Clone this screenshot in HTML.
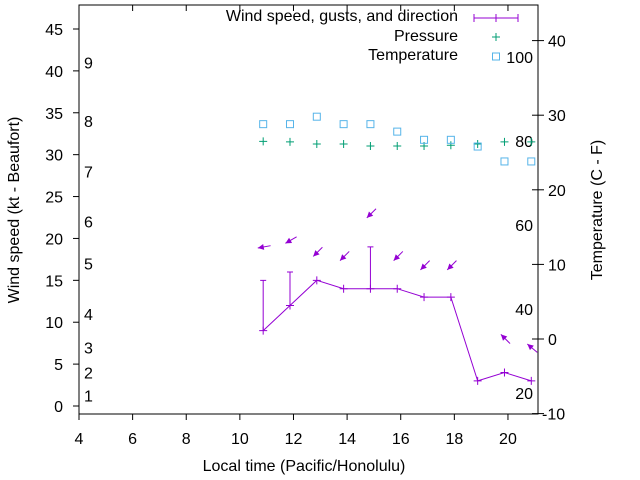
<!DOCTYPE html>
<html><head><meta charset="utf-8"><style>
body{margin:0;background:#fff}
svg{display:block;font-family:"Liberation Sans",sans-serif;font-size:16px}
</style></head><body>
<svg id="chart" width="640" height="480" viewBox="0 0 640 480">
<rect width="640" height="480" fill="#fff"/>
<g id="axes"></g>
<g id="marks"></g>
<g id="legend"></g>
</svg>
<script>
const times=[10.87,11.87,12.87,13.87,14.87,15.87,16.87,17.87,18.87,19.87,20.87];
const windSpeed=[9,12,15,14,14,14,13,13,3,4,3];
const gusts=[15,16,null,null,19,null,null,null,null,null,null];
const pressure=[79.9,79.8,79.3,79.3,78.8,78.8,78.8,79.0,79.3,79.8,79.8];
const temperature=[28.8,28.8,29.8,28.8,28.8,27.8,26.7,26.7,25.8,23.8,23.8];
const arrowIdx=[0,1,2,3,4,5,6,7,9,10];
const arrowLevel=[19.0,19.8,18.4,17.9,23.0,17.9,16.8,16.8,8.0,6.9];
const arrowDir=[190,210,225,225,225,225,225,225,135,140];
const xTicks=[4,6,8,10,12,14,16,18,20];
const yTicks=[0,5,10,15,20,25,30,35,40,45];
const y2Ticks=[-10,0,10,20,30,40];
const pTicks=[20,40,60,80,100];
const beaufort=[[1,1],[2,4],[3,7],[4,11],[5,17],[6,22],[7,28],[8,34],[9,41]];

const L=79,R=538,T=5,B=414;
const X=t=>79+(t-4)*26.81;
const Y=v=>406-v*8.378;
const Y2=v=>339-v*7.46;
const P=v=>141-(v-80)*4.2;
const NS='http://www.w3.org/2000/svg';
const ax=document.getElementById('axes'),mk=document.getElementById('marks'),lg=document.getElementById('legend');
function el(tag,attrs,parent,txt){const e=document.createElementNS(NS,tag);for(const k in attrs)e.setAttribute(k,attrs[k]);if(txt!=null)e.textContent=txt;parent.appendChild(e);return e;}

let f=el('rect',{x:L,y:T,width:R-L,height:B-T,fill:'none',stroke:'#000','stroke-width':1},ax);

xTicks.forEach(t=>{const x=X(t);
 el('line',{x1:x,y1:B,x2:x,y2:B+6,stroke:'#000'},ax);
 el('line',{x1:x,y1:T,x2:x,y2:T+6,stroke:'#000'},ax);
 const e=el('text',{x:x,y:B+30,'text-anchor':'middle'},ax,String(t));
 });
yTicks.forEach(v=>{const y=Y(v);
 el('line',{x1:L-6,y1:y,x2:L,y2:y,stroke:'#000'},ax);
 const e=el('text',{x:L-16,y:y+6,'text-anchor':'end'},ax,String(v));
 });
y2Ticks.forEach(v=>{const y=Y2(v);
 el('line',{x1:R-6,y1:y,x2:R+6,y2:y,stroke:'#000'},ax);
 const e=el('text',{x:R+4+(v<0?0:6),y:y+6},ax,String(v));
 });
pTicks.forEach(v=>{const e=el('text',{x:533,y:P(v)+6,'text-anchor':'end'},ax,String(v));
 });
beaufort.forEach(b=>{const e=el('text',{x:84,y:Y(b[1])+(b[0]==1?-2:0)+6},ax,String(b[0]));
 });
let t1=el('text',{x:304,y:471,'text-anchor':'middle'},ax,'Local time (Pacific/Honolulu)');

let t2=el('text',{x:0,y:0,'text-anchor':'middle',transform:'translate(19,210) rotate(-90)'},ax,'Wind speed (kt - Beaufort)');

let t3=el('text',{x:0,y:0,'text-anchor':'middle',transform:'translate(602,210) rotate(-90)'},ax,'Temperature (C - F)');


const purple='#9400d3',green='#009e73',blue='#56b4e9';
// wind line
let pts=times.map((t,i)=>X(t)+','+Y(windSpeed[i])).join(' ');
let wl=el('polyline',{points:pts,fill:'none',stroke:purple,'stroke-width':1},mk);

times.forEach((t,i)=>{const x=X(t),y=Y(windSpeed[i]);
 const g=el('path',{d:`M${x-4},${y}h8M${x},${y-4}v8`,stroke:purple,fill:'none'},mk);
 
 if(gusts[i]!=null){const gy=Y(gusts[i]);
  const b=el('path',{d:`M${x},${y}V${gy}M${x-3},${gy}h6`,stroke:purple,fill:'none'},mk);
  }
 const p=el('path',{d:`M${x-4},${P(pressure[i])}h8M${x},${P(pressure[i])-4}v8`,stroke:green,fill:'none'},mk);
 
 const s=el('rect',{x:x-3.5,y:Y2(temperature[i])-3.5,width:7,height:7,stroke:blue,fill:'none'},mk);
 
});
arrowIdx.forEach((idx,k)=>{const cx=X(times[idx])+1,cy=Y(arrowLevel[k]);
 const a=arrowDir[k]*Math.PI/180,dx=Math.cos(a),dy=-Math.sin(a),len=13;
 const hx=cx+dx*len/2,hy=cy+dy*len/2,tx=cx-dx*len/2,ty=cy-dy*len/2;
 const px=-dy,py=dx;
 const g=el('g',{},mk);
 
 el('line',{x1:tx,y1:ty,x2:hx,y2:hy,stroke:purple},g);
 el('polygon',{points:`${hx},${hy} ${hx-dx*6+px*3},${hy-dy*6+py*3} ${hx-dx*6-px*3},${hy-dy*6-py*3}`,fill:purple},g);
});
// legend
const le=[['Wind speed, gusts, and direction',22],['Pressure',42],['Temperature',61]];
le.forEach((l,i)=>{const e=el('text',{x:458,y:l[1]-1,'text-anchor':'end'},lg,l[0]);
 });
el('path',{d:'M474,18H518M474,14v8M518,14v8M496,14v8',stroke:purple,fill:'none'},lg);
el('path',{d:'M492,37h8M496,33v8',stroke:green,fill:'none'},lg);
el('rect',{x:492.5,y:53,width:7,height:7,stroke:blue,fill:'none'},lg);
</script>
</body></html>
